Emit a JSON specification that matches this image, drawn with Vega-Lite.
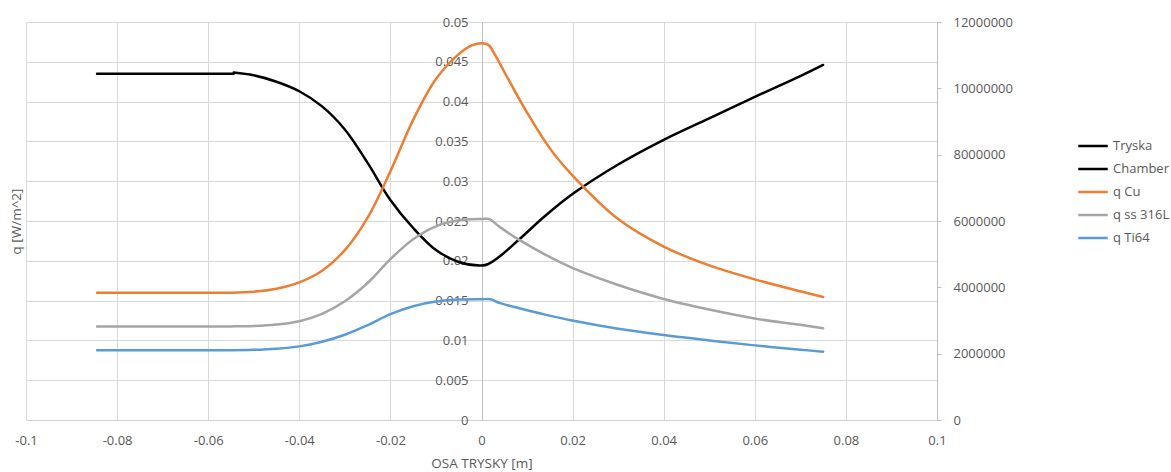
{
  "$schema": "https://vega.github.io/schema/vega-lite/v6.json",
  "width": 911,
  "height": 398,
  "autosize": "none",
  "padding": {"left": 26, "top": 22, "right": 234, "bottom": 52},
  "background": "white",
  "config": {
    "view": {"stroke": null},
    "axis": {
      "labelFont": "Open Sans",
      "labelFontSize": 13,
      "labelColor": "#595959",
      "titleFont": "Open Sans",
      "titleFontSize": 13.5,
      "titleColor": "#595959",
      "titleFontWeight": "normal",
      "gridColor": "#d9d9d9",
      "gridWidth": 1,
      "domainColor": "#bfbfbf",
      "tickColor": "#bfbfbf"
    },
    "legend": {
      "labelFont": "Open Sans",
      "labelFontSize": 13,
      "labelColor": "#595959"
    }
  },
  "datasets": {
    "geom": [
      {"series": "Chamber", "x": -0.0844, "y": 0.0435},
      {"series": "Chamber", "x": -0.07, "y": 0.0435},
      {"series": "Chamber", "x": -0.0544, "y": 0.0435},
      {"series": "Tryska", "x": -0.0544, "y": 0.04365},
      {"series": "Tryska", "x": -0.05, "y": 0.0433},
      {"series": "Tryska", "x": -0.045, "y": 0.0425},
      {"series": "Tryska", "x": -0.04, "y": 0.0413},
      {"series": "Tryska", "x": -0.035, "y": 0.0394},
      {"series": "Tryska", "x": -0.03, "y": 0.0365},
      {"series": "Tryska", "x": -0.025, "y": 0.0323},
      {"series": "Tryska", "x": -0.02, "y": 0.02764},
      {"series": "Tryska", "x": -0.015, "y": 0.02412},
      {"series": "Tryska", "x": -0.01, "y": 0.02136},
      {"series": "Tryska", "x": -0.005, "y": 0.01985},
      {"series": "Tryska", "x": 0, "y": 0.01941},
      {"series": "Tryska", "x": 0.0015, "y": 0.0196},
      {"series": "Tryska", "x": 0.0039, "y": 0.0205},
      {"series": "Tryska", "x": 0.0083, "y": 0.0227},
      {"series": "Tryska", "x": 0.0142, "y": 0.02575},
      {"series": "Tryska", "x": 0.0202, "y": 0.02848},
      {"series": "Tryska", "x": 0.03, "y": 0.0321},
      {"series": "Tryska", "x": 0.04, "y": 0.0352},
      {"series": "Tryska", "x": 0.05, "y": 0.0379},
      {"series": "Tryska", "x": 0.06, "y": 0.0406},
      {"series": "Tryska", "x": 0.07, "y": 0.0432},
      {"series": "Tryska", "x": 0.075, "y": 0.0446}
    ],
    "q": [
      {"series": "q Cu", "x": -0.0844, "q": 3838000},
      {"series": "q Cu", "x": -0.07, "q": 3838000},
      {"series": "q Cu", "x": -0.055, "q": 3840000},
      {"series": "q Cu", "x": -0.05, "q": 3870000},
      {"series": "q Cu", "x": -0.045, "q": 3960000},
      {"series": "q Cu", "x": -0.04, "q": 4150000},
      {"series": "q Cu", "x": -0.035, "q": 4500000},
      {"series": "q Cu", "x": -0.03, "q": 5120000},
      {"series": "q Cu", "x": -0.025, "q": 6100000},
      {"series": "q Cu", "x": -0.02, "q": 7500000},
      {"series": "q Cu", "x": -0.015, "q": 9050000},
      {"series": "q Cu", "x": -0.01, "q": 10280000},
      {"series": "q Cu", "x": -0.005, "q": 11030000},
      {"series": "q Cu", "x": -0.002, "q": 11300000},
      {"series": "q Cu", "x": 0, "q": 11360000},
      {"series": "q Cu", "x": 0.0015, "q": 11310000},
      {"series": "q Cu", "x": 0.003, "q": 11000000},
      {"series": "q Cu", "x": 0.005, "q": 10500000},
      {"series": "q Cu", "x": 0.01, "q": 9270000},
      {"series": "q Cu", "x": 0.015, "q": 8190000},
      {"series": "q Cu", "x": 0.02, "q": 7370000},
      {"series": "q Cu", "x": 0.03, "q": 6060000},
      {"series": "q Cu", "x": 0.04, "q": 5230000},
      {"series": "q Cu", "x": 0.05, "q": 4660000},
      {"series": "q Cu", "x": 0.06, "q": 4240000},
      {"series": "q Cu", "x": 0.07, "q": 3880000},
      {"series": "q Cu", "x": 0.075, "q": 3710000},
      {"series": "q ss 316L", "x": -0.0844, "q": 2820000},
      {"series": "q ss 316L", "x": -0.07, "q": 2820000},
      {"series": "q ss 316L", "x": -0.055, "q": 2822000},
      {"series": "q ss 316L", "x": -0.05, "q": 2835000},
      {"series": "q ss 316L", "x": -0.045, "q": 2880000},
      {"series": "q ss 316L", "x": -0.04, "q": 2980000},
      {"series": "q ss 316L", "x": -0.035, "q": 3200000},
      {"series": "q ss 316L", "x": -0.03, "q": 3580000},
      {"series": "q ss 316L", "x": -0.025, "q": 4130000},
      {"series": "q ss 316L", "x": -0.02, "q": 4850000},
      {"series": "q ss 316L", "x": -0.015, "q": 5450000},
      {"series": "q ss 316L", "x": -0.01, "q": 5840000},
      {"series": "q ss 316L", "x": -0.005, "q": 6020000},
      {"series": "q ss 316L", "x": 0, "q": 6060000},
      {"series": "q ss 316L", "x": 0.0017, "q": 6060000},
      {"series": "q ss 316L", "x": 0.0039, "q": 5830000},
      {"series": "q ss 316L", "x": 0.0083, "q": 5430000},
      {"series": "q ss 316L", "x": 0.0142, "q": 4970000},
      {"series": "q ss 316L", "x": 0.0202, "q": 4570000},
      {"series": "q ss 316L", "x": 0.03, "q": 4070000},
      {"series": "q ss 316L", "x": 0.04, "q": 3650000},
      {"series": "q ss 316L", "x": 0.05, "q": 3330000},
      {"series": "q ss 316L", "x": 0.06, "q": 3060000},
      {"series": "q ss 316L", "x": 0.07, "q": 2870000},
      {"series": "q ss 316L", "x": 0.075, "q": 2765000},
      {"series": "q Ti64", "x": -0.0844, "q": 2100000},
      {"series": "q Ti64", "x": -0.07, "q": 2100000},
      {"series": "q Ti64", "x": -0.055, "q": 2102000},
      {"series": "q Ti64", "x": -0.05, "q": 2115000},
      {"series": "q Ti64", "x": -0.045, "q": 2150000},
      {"series": "q Ti64", "x": -0.04, "q": 2220000},
      {"series": "q Ti64", "x": -0.035, "q": 2360000},
      {"series": "q Ti64", "x": -0.03, "q": 2570000},
      {"series": "q Ti64", "x": -0.025, "q": 2860000},
      {"series": "q Ti64", "x": -0.02, "q": 3190000},
      {"series": "q Ti64", "x": -0.015, "q": 3430000},
      {"series": "q Ti64", "x": -0.01, "q": 3570000},
      {"series": "q Ti64", "x": -0.005, "q": 3630000},
      {"series": "q Ti64", "x": 0, "q": 3640000},
      {"series": "q Ti64", "x": 0.002, "q": 3640000},
      {"series": "q Ti64", "x": 0.0039, "q": 3530000},
      {"series": "q Ti64", "x": 0.0083, "q": 3370000},
      {"series": "q Ti64", "x": 0.0142, "q": 3170000},
      {"series": "q Ti64", "x": 0.0202, "q": 2990000},
      {"series": "q Ti64", "x": 0.03, "q": 2750000},
      {"series": "q Ti64", "x": 0.04, "q": 2560000},
      {"series": "q Ti64", "x": 0.05, "q": 2400000},
      {"series": "q Ti64", "x": 0.06, "q": 2250000},
      {"series": "q Ti64", "x": 0.07, "q": 2120000},
      {"series": "q Ti64", "x": 0.075, "q": 2060000}
    ]
  },
  "layer": [
    {
      "data": {"name": "geom"},
      "mark": {"type": "line", "interpolate": "catmull-rom", "strokeWidth": 2.5, "strokeCap": "round"},
      "encoding": {
        "x": {
          "field": "x",
          "type": "quantitative",
          "scale": {"domain": [-0.1, 0.1], "nice": false, "zero": false},
          "axis": {
            "title": "OSA TRYSKY [m]",
            "values": [-0.1, -0.08, -0.06, -0.04, -0.02, 0, 0.02, 0.04, 0.06, 0.08, 0.1],
            "format": "~g",
            "labelExpr": "replace(datum.label, '\u2212', '-')",
            "ticks": false,
            "tickSize": 0,
            "labelPadding": 14,
            "titlePadding": 9,
            "domainColor": "#d0d0d0",
            "labelFlush": false,
            "labelOverlap": false
          }
        },
        "y": {
          "field": "y",
          "type": "quantitative",
          "scale": {"domain": [0, 0.05], "nice": false},
          "axis": {
            "orient": "left",
            "offset": -456,
            "title": "q [W/m^2]",
            "titleX": -466,
            "titleY": 199,
            "titleAngle": -90,
            "titleAlign": "center",
            "titleBaseline": "middle",
            "values": [0, 0.005, 0.01, 0.015, 0.02, 0.025, 0.03, 0.035, 0.04, 0.045, 0.05],
            "format": "~g",
            "ticks": false,
            "tickSize": 0,
            "labelPadding": 14,
            "labelOverlap": false,
            "labelFlush": false
          }
        },
        "color": {
          "field": "series",
          "type": "nominal",
          "scale": {
            "domain": ["Tryska", "Chamber", "q Cu", "q ss 316L", "q Ti64"],
            "range": ["#000000", "#000000", "#ED7D31", "#A5A5A5", "#5B9BD5"]
          },
          "legend": {
            "title": null,
            "orient": "none",
            "legendX": 1051,
            "legendY": 108,
            "symbolType": "stroke",
            "symbolSize": 870,
            "symbolStrokeWidth": 2.5,
            "rowPadding": 0,
            "labelOffset": 4,
            "padding": 0
          }
        }
      }
    },
    {
      "data": {"name": "q"},
      "mark": {"type": "line", "interpolate": "catmull-rom", "strokeWidth": 2.5, "strokeCap": "round"},
      "encoding": {
        "x": {"field": "x", "type": "quantitative"},
        "y": {
          "field": "q",
          "type": "quantitative",
          "scale": {"domain": [0, 12000000], "nice": false},
          "axis": {
            "orient": "right",
            "title": null,
            "grid": false,
            "values": [0, 2000000, 4000000, 6000000, 8000000, 10000000, 12000000],
            "format": "d",
            "tickSize": 4,
            "labelPadding": 12,
            "labelOverlap": false,
            "labelFlush": false
          }
        },
        "color": {"field": "series", "type": "nominal"}
      }
    }
  ],
  "resolve": {"scale": {"y": "independent"}}
}
